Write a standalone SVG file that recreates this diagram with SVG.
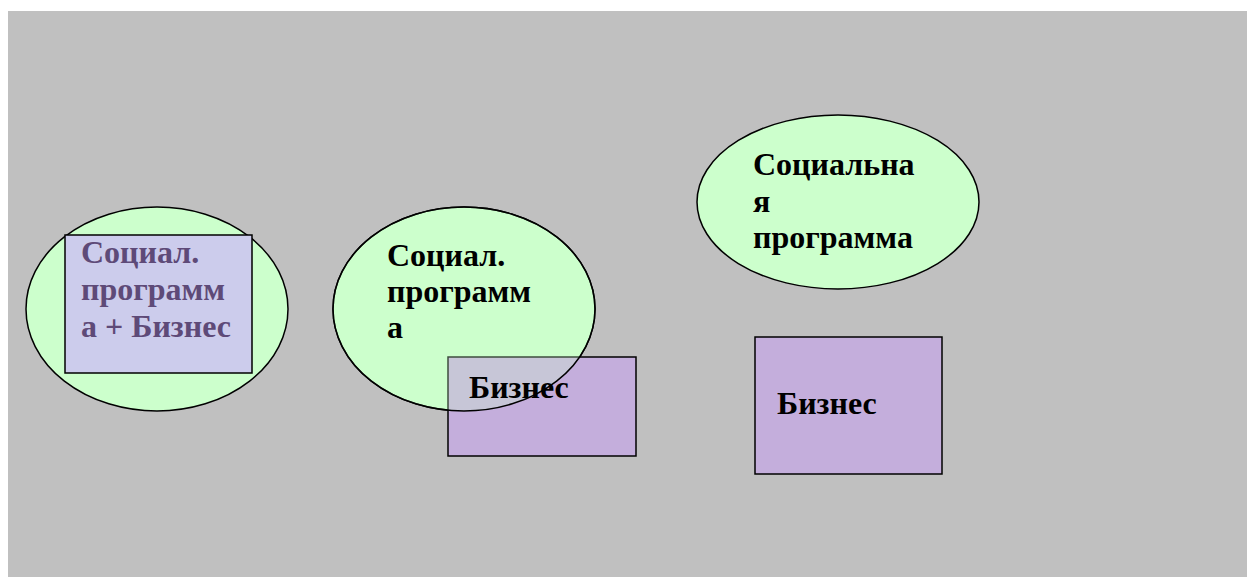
<svg xmlns="http://www.w3.org/2000/svg" width="1247" height="577" viewBox="0 0 1247 577">
<style>
.el{fill:#ccffcc;stroke:#000;stroke-width:1.5}
.rc{stroke:#000;stroke-width:1.5}
.t{font-family:"Liberation Serif","Times New Roman",serif;font-weight:bold;font-size:32px;fill:#000}
</style>
<rect x="0" y="0" width="1247" height="577" fill="#ffffff"/>
<rect x="8" y="11" width="1239" height="566" fill="#c0c0c0"/>
<g id="node1">
<ellipse class="el" cx="157" cy="309" rx="131" ry="102"/>
<rect class="rc" x="65" y="235" width="187" height="138" fill="#ccccec"/>
<text class="t" style="fill:#5e4a78"><tspan x="81" y="263">Социал.</tspan><tspan x="81" y="300">программ</tspan><tspan x="81" y="337">а + Бизнес</tspan></text>
</g>
<g id="node2">
<ellipse class="el" cx="464" cy="309" rx="131" ry="102"/>
</g>
<g id="node3">
<rect class="rc" x="448" y="357" width="188" height="99" fill="#c4aedc"/>
</g>
<g id="overlap">
<ellipse cx="464" cy="309" rx="131" ry="102" fill="#ccffcc" fill-opacity="0.3" stroke="#000" stroke-width="1.5"/>
<text class="t"><tspan x="387" y="266">Социал.</tspan><tspan x="387" y="302">программ</tspan><tspan x="387" y="338">а</tspan></text>
<text class="t" x="469" y="398">Бизнес</text>
</g>
<g id="node4">
<ellipse class="el" cx="838" cy="202" rx="141" ry="87"/>
<text class="t"><tspan x="753" y="175">Социальна</tspan><tspan x="753" y="212">я</tspan><tspan x="753" y="248">программа</tspan></text>
</g>
<g id="node5">
<rect class="rc" x="755" y="337" width="187" height="137" fill="#c4aedc"/>
<text class="t" x="777" y="414">Бизнес</text>
</g>
<g id="connectors"></g>
</svg>
